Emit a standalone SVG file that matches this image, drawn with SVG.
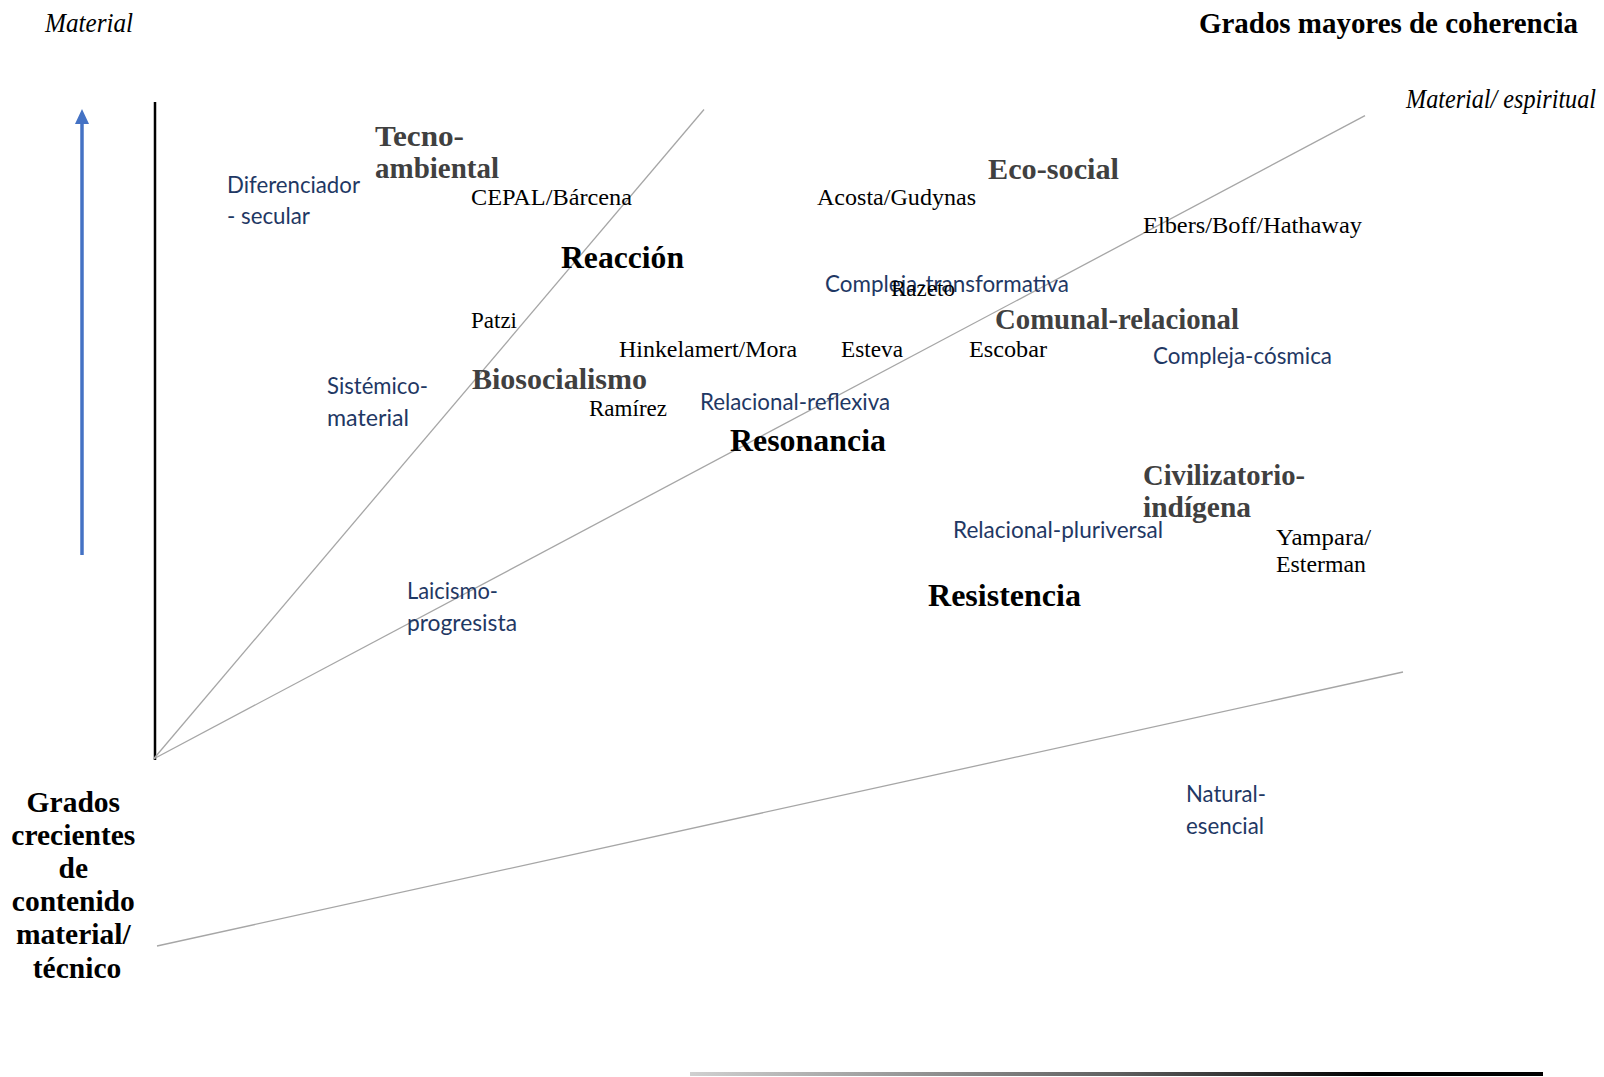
<svg xmlns="http://www.w3.org/2000/svg" width="1604" height="1077" viewBox="0 0 1604 1077">
<style>
.it{font-family:"Liberation Serif",serif;font-style:italic;font-size:27px;fill:#000}
.ttl{font-family:"Liberation Serif",serif;font-weight:bold;font-size:29px;fill:#000}
.grp{font-family:"Liberation Serif",serif;font-weight:bold;font-size:30px;fill:#404040}
.cat{font-family:"Liberation Serif",serif;font-weight:bold;font-size:31px;fill:#000}
.nm{font-family:"Liberation Serif",serif;font-size:24px;fill:#000}
.bl{font-family:Lato,"Open Sans",sans-serif;font-size:23px;fill:#1F3864}
.ax{font-family:"Liberation Serif",serif;font-weight:bold;font-size:29.5px;fill:#000}
.gl{stroke:#A6A6A6;stroke-width:1.3;fill:none}
</style>
<defs>
<linearGradient id="bg" x1="0" y1="0" x2="1" y2="0">
<stop offset="0" stop-color="#d0d0d0"/>
<stop offset="0.5" stop-color="#606060"/>
<stop offset="0.8" stop-color="#000"/>
<stop offset="1" stop-color="#000"/>
</linearGradient>
</defs>
<rect width="1604" height="1077" fill="#fff"/>

<g id="connectors">
<line x1="82" y1="555" x2="82" y2="122" stroke="#4472C4" stroke-width="3.5"/>
<path d="M75,124 L82,109 L89,124 Z" fill="#4472C4"/>
<line x1="155" y1="102" x2="155" y2="760" stroke="#000" stroke-width="2.5"/>
<line class="gl" x1="153.5" y1="759" x2="704" y2="109.5"/>
<line class="gl" x1="153.5" y1="759" x2="1365" y2="115.6"/>
<line class="gl" x1="157" y1="946" x2="1403" y2="672"/>
<rect x="690" y="1072" width="853" height="4" fill="url(#bg)"/>
</g>

<g id="axis-labels">
<text class="it" x="45" y="32" textLength="88" lengthAdjust="spacingAndGlyphs">Material</text>
<text class="ttl" x="1199" y="33" textLength="379" lengthAdjust="spacingAndGlyphs">Grados mayores de coherencia</text>
<text class="it" x="1406" y="108" textLength="190" lengthAdjust="spacingAndGlyphs">Material/ espiritual</text>
<text class="ax" text-anchor="middle">
<tspan x="77" y="812">Grados</tspan>
<tspan x="77" y="845">crecientes</tspan>
<tspan x="77" y="878">de</tspan>
<tspan x="77" y="911">contenido</tspan>
<tspan x="77" y="944">material/</tspan>
<tspan x="77" y="978">técnico</tspan>
</text>
</g>

<g id="node-tecno">
<text class="grp" x="375" y="146" textLength="89" lengthAdjust="spacingAndGlyphs">Tecno-</text>
<text class="grp" x="375" y="178" textLength="124" lengthAdjust="spacingAndGlyphs">ambiental</text>
</g>
<g id="node-diferenciador">
<text class="bl" x="227" y="193" textLength="133" lengthAdjust="spacingAndGlyphs">Diferenciador</text>
<text class="bl" x="227" y="224" textLength="83" lengthAdjust="spacingAndGlyphs">- secular</text>
</g>
<g id="node-cepal"><text class="nm" x="471" y="205" textLength="161" lengthAdjust="spacingAndGlyphs">CEPAL/Bárcena</text></g>
<g id="node-reaccion"><text class="cat" x="561" y="268" textLength="123" lengthAdjust="spacingAndGlyphs">Reacción</text></g>
<g id="node-ecosocial"><text class="grp" x="988" y="179" textLength="131" lengthAdjust="spacingAndGlyphs">Eco-social</text></g>
<g id="node-acosta"><text class="nm" x="817" y="205" textLength="159" lengthAdjust="spacingAndGlyphs">Acosta/Gudynas</text></g>
<g id="node-elbers"><text class="nm" x="1143" y="233" textLength="219" lengthAdjust="spacingAndGlyphs">Elbers/Boff/Hathaway</text></g>
<g id="node-compleja-t"><text class="bl" x="825" y="292" textLength="244" lengthAdjust="spacingAndGlyphs">Compleja-transformativa</text></g>
<g id="node-razeto"><text class="nm" x="891" y="296" textLength="64" lengthAdjust="spacingAndGlyphs">Razeto</text></g>
<g id="node-comunal"><text class="grp" x="995" y="329" textLength="244" lengthAdjust="spacingAndGlyphs">Comunal-relacional</text></g>
<g id="node-patzi"><text class="nm" x="471" y="328" textLength="46" lengthAdjust="spacingAndGlyphs">Patzi</text></g>
<g id="node-hinkelamert"><text class="nm" x="619" y="357" textLength="178" lengthAdjust="spacingAndGlyphs">Hinkelamert/Mora</text></g>
<g id="node-esteva"><text class="nm" x="841" y="357" textLength="62" lengthAdjust="spacingAndGlyphs">Esteva</text></g>
<g id="node-escobar"><text class="nm" x="969" y="357" textLength="78" lengthAdjust="spacingAndGlyphs">Escobar</text></g>
<g id="node-compleja-c"><text class="bl" x="1153" y="364" textLength="179" lengthAdjust="spacingAndGlyphs">Compleja-cósmica</text></g>
<g id="node-sistemico">
<text class="bl" x="327" y="394" textLength="101" lengthAdjust="spacingAndGlyphs">Sistémico-</text>
<text class="bl" x="327" y="426" textLength="82" lengthAdjust="spacingAndGlyphs">material</text>
</g>
<g id="node-biosocialismo"><text class="grp" x="472" y="389" textLength="175" lengthAdjust="spacingAndGlyphs">Biosocialismo</text></g>
<g id="node-ramirez"><text class="nm" x="589" y="416" textLength="78" lengthAdjust="spacingAndGlyphs">Ramírez</text></g>
<g id="node-relacional-r"><text class="bl" x="700" y="410" textLength="190" lengthAdjust="spacingAndGlyphs">Relacional-reflexiva</text></g>
<g id="node-resonancia"><text class="cat" x="730" y="451" textLength="156" lengthAdjust="spacingAndGlyphs">Resonancia</text></g>
<g id="node-civilizatorio">
<text class="grp" x="1143" y="485" textLength="162" lengthAdjust="spacingAndGlyphs">Civilizatorio-</text>
<text class="grp" x="1143" y="517" textLength="108" lengthAdjust="spacingAndGlyphs">indígena</text>
</g>
<g id="node-relacional-p"><text class="bl" x="953" y="538" textLength="210" lengthAdjust="spacingAndGlyphs">Relacional-pluriversal</text></g>
<g id="node-yampara">
<text class="nm" x="1276" y="545" textLength="95" lengthAdjust="spacingAndGlyphs">Yampara/</text>
<text class="nm" x="1276" y="572" textLength="90" lengthAdjust="spacingAndGlyphs">Esterman</text>
</g>
<g id="node-resistencia"><text class="cat" x="928" y="606" textLength="153" lengthAdjust="spacingAndGlyphs">Resistencia</text></g>
<g id="node-laicismo">
<text class="bl" x="407" y="599" textLength="91" lengthAdjust="spacingAndGlyphs">Laicismo-</text>
<text class="bl" x="407" y="631" textLength="110" lengthAdjust="spacingAndGlyphs">progresista</text>
</g>
<g id="node-natural">
<text class="bl" x="1186" y="802" textLength="80" lengthAdjust="spacingAndGlyphs">Natural-</text>
<text class="bl" x="1186" y="834" textLength="78" lengthAdjust="spacingAndGlyphs">esencial</text>
</g>
</svg>
